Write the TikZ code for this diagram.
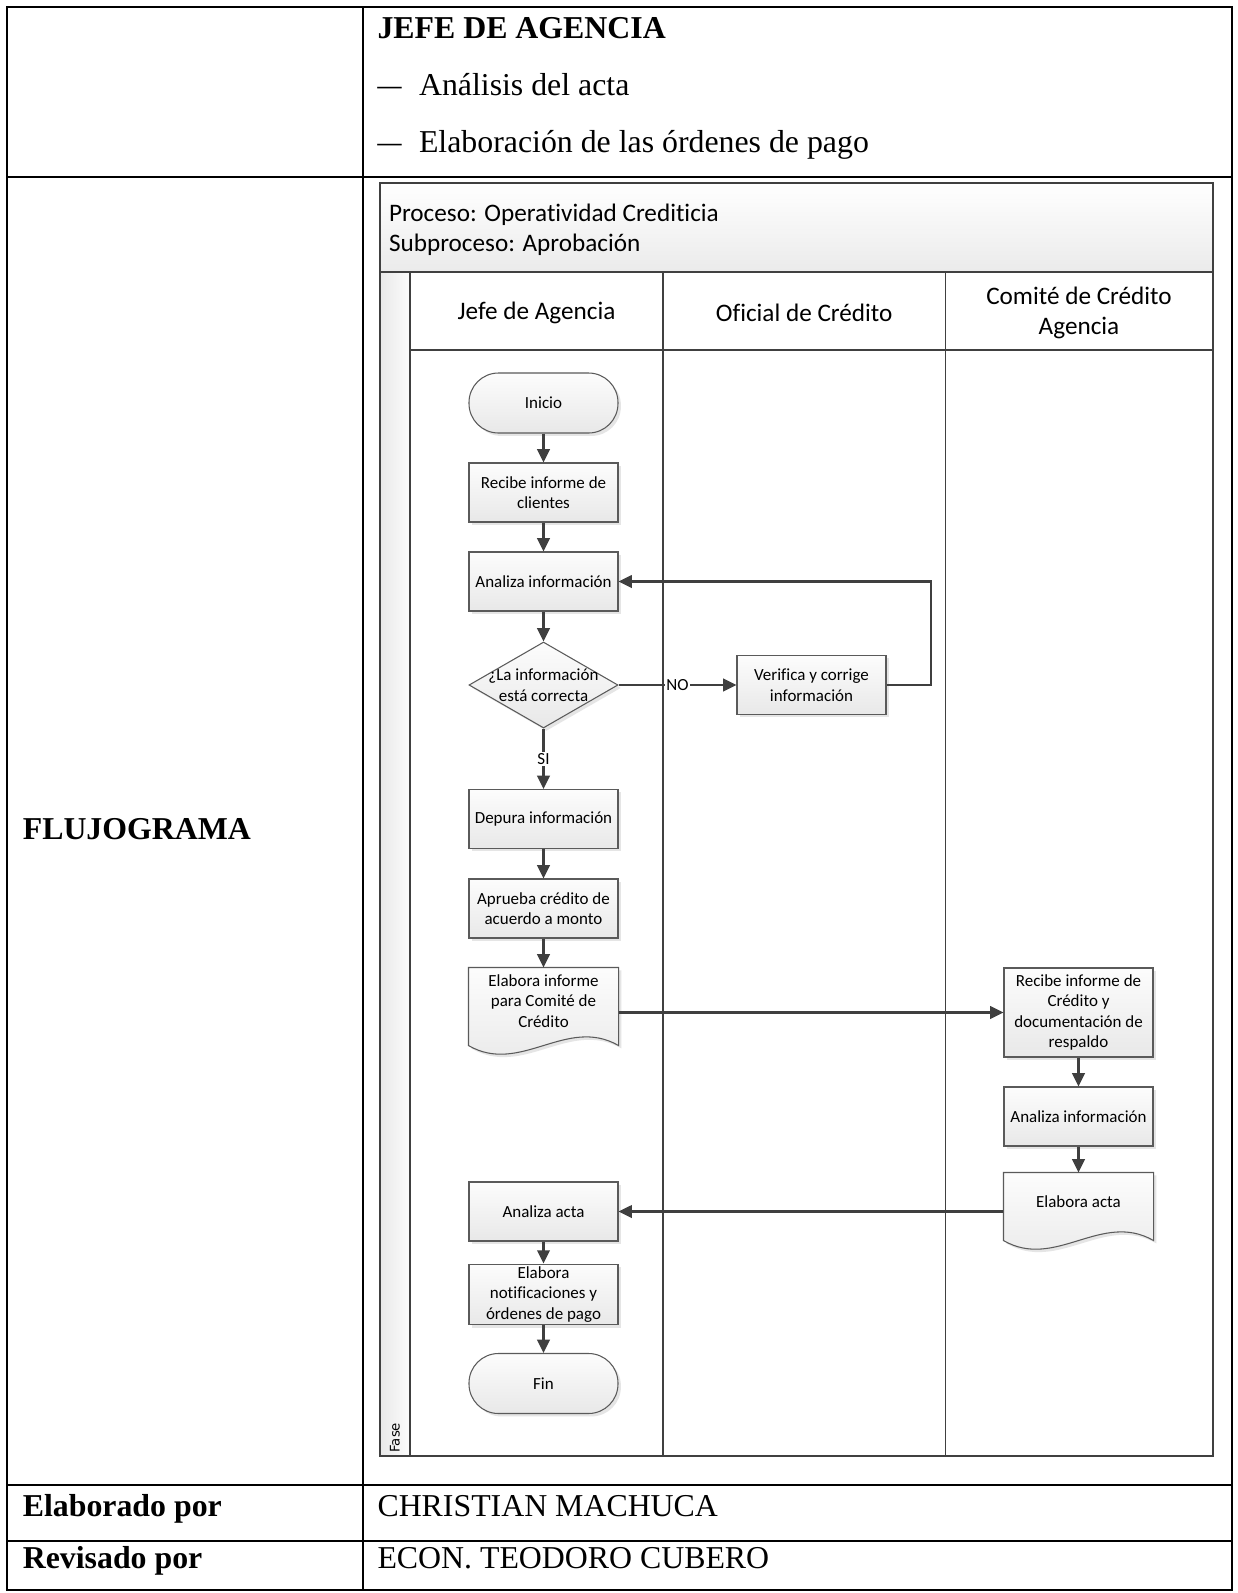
\documentclass[tikz,border=0pt]{standalone}
\usepackage{fontspec}
\setmainfont{Liberation Serif}
\newfontfamily\flowfont[Ligatures=NoCommon]{Carlito}
\newfontfamily\fasefont{DejaVu Sans}
\usetikzlibrary{shapes.geometric,shadows,arrows.meta,calc}

% one drawing unit
\def\pxu{0.377pt}
\definecolor{lineclr}{HTML}{3F3F3F}
\definecolor{boxline}{HTML}{5A5A5A}
\definecolor{poolclr}{HTML}{404040}

\newcommand\nodetext{\flowfont\fontsize{6.4}{7.7}\selectfont}
\newcommand\lanetext{\flowfont\fontsize{9.5}{11.5}\selectfont}
\newcommand\tabletext{\fontsize{12}{14}\selectfont}
\newcommand\itemdash{\scalebox{1.5}[1]{–}}

\begin{document}
\begin{tikzpicture}[x=\pxu, y=-\pxu,
  tbl/.style={line width=0.75pt, draw=black},
  poolline/.style={line width=0.55pt, draw=poolclr},
  laneline/.style={line width=0.45pt, draw=poolclr},
  boxbase/.style={draw=boxline, line width=0.4pt, top color=black!1, bottom color=black!9,
    drop shadow={shadow xshift=1.1pt, shadow yshift=-1.1pt, fill=black!25, opacity=0.4}},
  box/.style={boxbase, minimum width=149*\pxu, minimum height=59*\pxu, inner sep=1pt,
    align=center, font=\nodetext},
  tallbox/.style={box, minimum height=89*\pxu},
  term/.style={box, minimum height=60*\pxu, rounded corners=29.5*\pxu},
  decision/.style={boxbase, diamond, minimum width=149*\pxu, minimum height=86*\pxu, inner sep=0pt},
  docframe/.style={minimum width=149*\pxu, inner sep=0pt},
  txt/.style={font=\nodetext, align=center, inner sep=0pt},
  arr/.style={draw=lineclr, line width=0.8pt, -{Triangle[length=5pt,width=4.7pt]}},
  lbl/.style={font=\nodetext, fill=white, inner sep=0.6pt},
  celltext/.style={font=\tabletext, anchor=base west, inner sep=0pt},
  cellbold/.style={font=\tabletext\bfseries, anchor=base west, inner sep=0pt},
  lanehead/.style={font=\lanetext, align=center, inner sep=0pt}
]
\fill[white] (0,0) rectangle (1238,1593);
\useasboundingbox (0,0) rectangle (1238,1593);

% ---- form table ----
\draw[tbl] (7,7) rectangle (1232,1590);
\draw[tbl] (362.6,7) -- (362.6,1590);
\draw[tbl] (7,177) -- (1232,177);
\draw[tbl] (7,1485) -- (1232,1485);
\draw[tbl] (7,1541) -- (1232,1541);

\node[cellbold] (jefe) at (377,38) {JEFE DE AGENCIA};
\node[celltext] (d1) at (377,95) {\itemdash};
\node[celltext] (t1) at (418.5,95) {Análisis del acta};
\node[celltext] (d2) at (377,152.5) {\itemdash};
\node[celltext] (t2) at (418.5,152.5) {Elaboración de las órdenes de pago};
\node[cellbold] (flujo) at (22.3,839) {FLUJOGRAMA};
\node[cellbold] (elab) at (22.3,1516) {Elaborado por};
\node[celltext] (autor) at (377,1516) {CHRISTIAN MACHUCA};
\node[cellbold] (rev) at (22.3,1568) {Revisado por};
\node[celltext] (revisor) at (377,1568) {ECON. TEODORO CUBERO};

% ---- swimlane pool ----
\path[top color=white, bottom color=black!8] (380,183) rectangle (1213,272);
\path[left color=black!9, right color=black!1] (380,272) rectangle (410,1456);
\draw[poolline] (380,183) rectangle (1213,1456);
\draw[poolline] (380,272) -- (1213,272);
\draw[laneline] (410,272) -- (410,1456);
\draw[laneline] (663,272) -- (663,1456);
\draw[laneline] (945.5,272) -- (945.5,1456);
\draw[laneline] (410,350) -- (1213,350);

\node[font=\lanetext, align=left, anchor=west, inner sep=0pt] (proc) at (388.5,230)
  {Proceso: Operatividad Crediticia\\Subproceso: Aprobación};
\node[lanehead] (l1) at (536.5,313) {Jefe de Agencia};
\node[lanehead] (l2) at (804.2,313) {Oficial de Crédito};
\node[lanehead] (l3) at (1079,313) {Comité de Crédito\\Agencia};
\node[font=\fasefont\fontsize{5}{6}\selectfont, rotate=90, anchor=west, inner sep=0pt] (fase) at (395,1453) {Fase};

% ---- lane 1: Jefe de Agencia ----
\node[term] (ini) at (543.5,403) {Inicio};
\node[box] (rec) at (543.5,492.5) {Recibe informe de\\clientes};
\node[box] (ana) at (543.5,581.5) {Analiza información};
\node[decision] (dec) at (543.5,685) {};
\node[txt] (dectxt) at (dec.center) {¿La información\\está correcta};
\node[box] (dep) at (543.5,819) {Depura información};
\node[box] (apr) at (543.5,908.5) {Aprueba crédito de\\acuerdo a monto};

\node[docframe, minimum height=77*\pxu] (eli) at (543.5,1006.5) {};
\path[boxbase] (eli.north west) -- (eli.north east) -- (eli.south east)
  .. controls ($(eli.south east)+(-52,-30)$) and ($(eli.south west)+(52,30)$) .. (eli.south west) -- cycle;
\node[txt] (elitxt) at (543.5,1001) {Elabora informe\\para Comité de\\Crédito};

\node[box] (aacta) at (543.5,1211.5) {Analiza acta};
\node[box] (notif) at (543.5,1294.5) {Elabora\\notificaciones y\\órdenes de pago};
\node[term] (fin) at (543.5,1383.5) {Fin};

% ---- lane 2: Oficial de Crédito ----
\node[box] (ver) at (811.5,685) {Verifica y corrige\\información};
\coordinate (loop) at (931,685);

% ---- lane 3: Comité de Crédito Agencia ----
\node[tallbox] (rcv) at (1078.5,1012.5) {Recibe informe de\\Crédito y\\documentación de\\respaldo};
\node[box] (ana2) at (1078.5,1116.5) {Analiza información};

\node[docframe, minimum height=67*\pxu] (acta) at (1078.5,1206.5) {};
\path[boxbase] (acta.north west) -- (acta.north east) -- (acta.south east)
  .. controls ($(acta.south east)+(-52,-30)$) and ($(acta.south west)+(52,30)$) .. (acta.south west) -- cycle;
\node[txt] (actatxt) at (1078.5,1202) {Elabora acta};

% ---- connectors ----
\draw[arr] (ini) -- (rec);
\draw[arr] (rec) -- (ana);
\draw[arr] (ana) -- (dec);
\draw[arr] (dec) -- node[lbl] {NO} (ver);
\draw[arr] (ver.east) -- (loop) |- (ana.east);
\draw[arr] (dec) -- node[lbl] {SI} (dep);
\draw[arr] (dep) -- (apr);
\draw[arr] (apr) -- (eli);
\draw[arr] (eli.east |- rcv.west) -- (rcv.west);
\draw[arr] (rcv) -- (ana2);
\draw[arr] (ana2) -- (acta);
\draw[arr] (acta.west |- aacta.east) -- (aacta.east);
\draw[arr] (aacta) -- (notif);
\draw[arr] (notif) -- (fin);
\end{tikzpicture}
\end{document}
